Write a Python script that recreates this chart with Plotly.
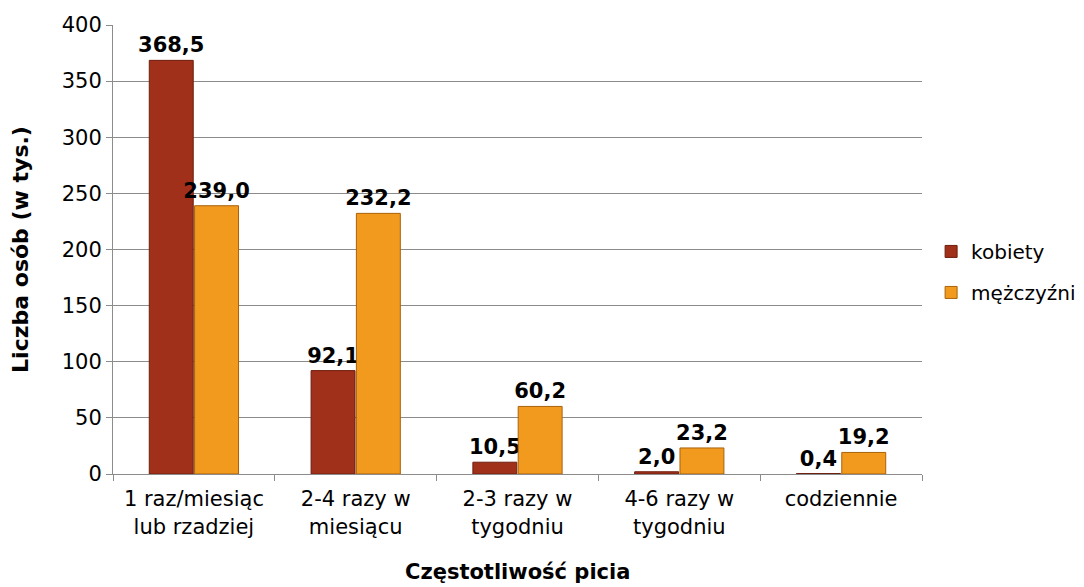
import plotly.graph_objects as go

categories = ["1 raz/miesiąc<br>lub rzadziej", "2-4 razy w<br>miesiącu", "2-3 razy w<br>tygodniu",
              "4-6 razy w<br>tygodniu", "codziennie"]
kobiety = [368.5, 92.1, 10.5, 2.0, 0.4]
mezczyzni = [239.0, 232.2, 60.2, 23.2, 19.2]

FONT = "DejaVu Sans"


def fmt(vals):
    return [f"{v:.1f}".replace(".", ",") for v in vals]


fig = go.Figure()
fig.add_trace(go.Bar(
    name="kobiety", x=categories, y=kobiety, legendgroup="k",
    marker=dict(color="#A0301A", line=dict(color="#6E1E0E", width=1)),
    text=fmt(kobiety), textposition="outside", cliponaxis=False, constraintext="none",
    textfont=dict(family=FONT, size=21, color="black", weight="bold"),
))
fig.add_trace(go.Bar(
    name="mężczyźni", x=categories, y=mezczyzni, legendgroup="m",
    marker=dict(color="#F29A1E", line=dict(color="#A8620B", width=1)),
    text=fmt(mezczyzni), textposition="outside", cliponaxis=False, constraintext="none",
    textfont=dict(family=FONT, size=21, color="black", weight="bold"),
))

fig.update_layout(
    width=1084, height=587,
    barmode="group", bargap=0.44, bargroupgap=0.03,
    plot_bgcolor="white", paper_bgcolor="white",
    font=dict(family=FONT, size=21, color="black"),
    margin=dict(l=105, r=169, t=17, b=121),
    legend=dict(x=1.01, y=0.45, yanchor="middle", font=dict(size=20),
                tracegroupgap=12, itemwidth=30),
)
fig.update_yaxes(
    range=[0, 400], dtick=50, showgrid=True, gridcolor="#8C8C8C", gridwidth=1,
    showline=True, linecolor="#8C8C8C", ticks="outside", ticklen=6, tickcolor="#8C8C8C",
    title=dict(text="<b>Liczba osób (w tys.)</b>", font=dict(size=22), standoff=28),
    zeroline=False, automargin=False,
)
fig.update_xaxes(
    showline=True, linecolor="#8C8C8C", ticks="outside", tickson="boundaries",
    ticklen=6, tickcolor="#8C8C8C", ticklabelstandoff=6, automargin=False,
)

# x-axis title sits low near the bottom edge, as in the original
fig.add_annotation(
    text="<b>Częstotliwość picia</b>", xref="paper", yref="paper", x=0.5, y=0,
    yanchor="middle", yshift=-98, showarrow=False, font=dict(size=21),
)

fig.write_html("out.html")
